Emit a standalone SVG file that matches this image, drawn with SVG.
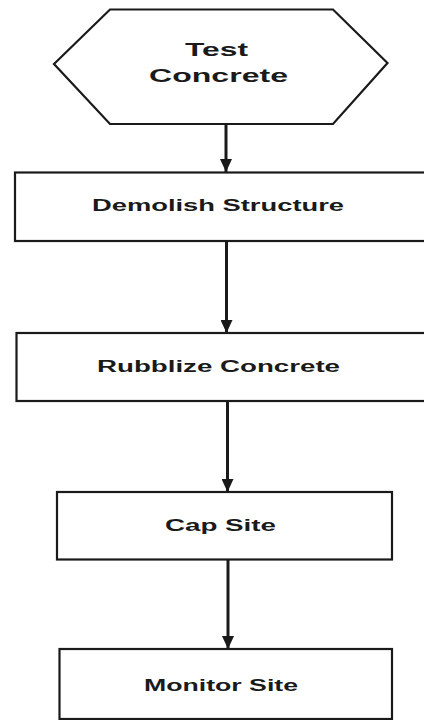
<svg xmlns="http://www.w3.org/2000/svg" width="424" height="720" viewBox="0 0 424 720">
  <style>
    .shape { fill: #fff; stroke: #1a1a1a; stroke-width: 2.2; }
    .label { font-family: "Liberation Sans", Arial, sans-serif; font-weight: bold; fill: #1a1a1a; }
    .box-label { font-size: 16px; }
    .start-label { font-size: 19px; }
    .link { stroke: #1a1a1a; stroke-width: 3; fill: none; }
  </style>
  <defs>
    <marker id="arrow" markerUnits="userSpaceOnUse" markerWidth="14" markerHeight="12" refX="13" refY="6" orient="auto">
      <path d="M0,0 L13,6 L0,12 Z" fill="#1a1a1a"/>
    </marker>
  </defs>
  <rect width="424" height="720" fill="#fff"/>

  <!-- connectors -->
  <g id="connectors">
    <line class="link" x1="226" y1="124" x2="226" y2="172" marker-end="url(#arrow)"/>
    <line class="link" x1="226.5" y1="241" x2="226.5" y2="333" marker-end="url(#arrow)"/>
    <line class="link" x1="227.5" y1="401" x2="227.5" y2="492" marker-end="url(#arrow)"/>
    <line class="link" x1="228" y1="559" x2="228" y2="649" marker-end="url(#arrow)"/>
  </g>

  <!-- start: hexagon -->
  <g id="test-concrete">
    <polygon class="shape" points="110,9.5 333,9.5 387.5,63 333,124 110,124 54,64"/>
    <text class="label start-label" x="185" y="56" textLength="63" lengthAdjust="spacingAndGlyphs">Test</text>
    <text class="label start-label" x="149" y="82" textLength="139" lengthAdjust="spacingAndGlyphs">Concrete</text>
  </g>

  <g id="demolish-structure">
    <rect class="shape" x="15" y="172.5" width="430" height="68.5"/>
    <text class="label box-label" x="92" y="211" textLength="252" lengthAdjust="spacingAndGlyphs">Demolish Structure</text>
  </g>

  <g id="rubblize-concrete">
    <rect class="shape" x="16.5" y="333" width="430" height="68"/>
    <text class="label box-label" x="97" y="371.5" textLength="243" lengthAdjust="spacingAndGlyphs">Rubblize Concrete</text>
  </g>

  <g id="cap-site">
    <rect class="shape" x="57" y="492" width="335" height="67.5"/>
    <text class="label box-label" x="165" y="531" textLength="111" lengthAdjust="spacingAndGlyphs">Cap Site</text>
  </g>

  <g id="monitor-site">
    <rect class="shape" x="59.5" y="649" width="332.5" height="70"/>
    <text class="label box-label" x="144" y="691" textLength="154" lengthAdjust="spacingAndGlyphs">Monitor Site</text>
  </g>
</svg>
